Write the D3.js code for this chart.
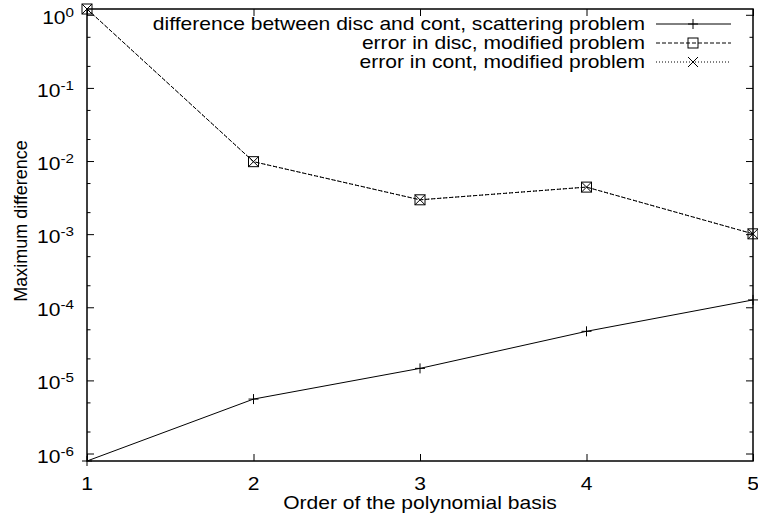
<!DOCTYPE html>
<html>
<head>
<meta charset="utf-8">
<script src="https://cdn.jsdelivr.net/npm/d3@7"></script>
<style>
  body { margin: 0; background: #fff; }
  text { font-family: "Liberation Sans", Arial, Helvetica, sans-serif; fill: #000; }
</style>
</head>
<body>
<div id="chart"></div>
<script>
// polynomial order on x, max difference on y (log)
const order = [1, 2, 3, 4, 5];
const scattering = [7.9e-7, 5.55e-6, 1.46e-5, 4.69e-5, 1.26e-4];
const discError = [1.2, 9.8e-3, 2.95e-3, 4.4e-3, 1.01e-3];
const contError = [1.2, 9.8e-3, 2.95e-3, 4.4e-3, 1.01e-3];
const yTickExp = [0, -1, -2, -3, -4, -5, -6];
const yMinorMult = [2, 5];
const legendLabels = [
  "difference between disc and cont, scattering problem",
  "error in disc, modified problem",
  "error in cont, modified problem"
];

const width = 758, height = 521;
const plotLeft = 87, plotRight = 753, plotTop = 9, plotBottom = 461;
const stretch = 1.17; // the original text is a bit wider than Liberation Sans

const svg = d3.select("#chart").append("svg")
  .attr("width", width)
  .attr("height", height);

svg.append("rect").attr("width", width).attr("height", height).attr("fill", "#fff");

const x = d3.scaleLinear().domain(d3.extent(order)).range([plotLeft, plotRight]);
const y = d3.scaleLog()
  .domain(d3.extent(scattering.concat(discError, contError)))
  .range([plotBottom, plotTop]);

const majorVals = yTickExp.map(e => Math.pow(10, e));
const minorVals = [];
yTickExp.forEach(e => yMinorMult.forEach(m => {
  const v = m * Math.pow(10, e - 1);
  if (v >= y.domain()[0] && v <= y.domain()[1]) minorVals.push(v);
}));

// ticks, inward on all four sides
function tickGroup(axis, tx, ty) {
  const g = svg.append("g").attr("transform", `translate(${tx},${ty})`).call(axis);
  g.select(".domain").remove();
  g.selectAll("line").attr("stroke", "#000").attr("stroke-width", 1);
  return g;
}
tickGroup(d3.axisLeft(y).tickValues(majorVals).tickSize(-7).tickFormat(""), plotLeft, 0);
tickGroup(d3.axisLeft(y).tickValues(minorVals).tickSize(-3.5).tickFormat(""), plotLeft, 0);
tickGroup(d3.axisRight(y).tickValues(majorVals).tickSize(-7).tickFormat(""), plotRight, 0);
tickGroup(d3.axisRight(y).tickValues(minorVals).tickSize(-3.5).tickFormat(""), plotRight, 0);
tickGroup(d3.axisBottom(x).tickValues(order).tickSize(-7).tickFormat(""), 0, plotBottom);
tickGroup(d3.axisTop(x).tickValues(order).tickSize(-7).tickFormat(""), 0, plotTop);

// frame
svg.append("rect")
  .attr("x", plotLeft).attr("y", plotTop)
  .attr("width", plotRight - plotLeft).attr("height", plotBottom - plotTop)
  .attr("fill", "none").attr("stroke", "#000").attr("stroke-width", 1.5);

const place = (px, py) => `translate(${px},${py}) scale(${stretch},1)`;

// y tick labels 10^k
const yl = svg.append("g").selectAll("text")
  .data(yTickExp)
  .enter().append("text")
  .attr("transform", d => place(74, y(Math.pow(10, d)) + 9))
  .attr("text-anchor", "end")
  .attr("font-size", "18px");
yl.append("tspan").text("10");
yl.append("tspan").attr("dy", -7).attr("font-size", "13px").text(d => d);

// x tick labels
svg.append("g").selectAll("text")
  .data(order)
  .enter().append("text")
  .attr("transform", d => place(x(d), 490))
  .attr("text-anchor", "middle")
  .attr("font-size", "18px")
  .text(d => d);

// axis titles
svg.append("text")
  .attr("transform", "translate(27,221) rotate(-90)")
  .attr("text-anchor", "middle")
  .attr("font-size", "18px")
  .text("Maximum difference");

svg.append("text")
  .attr("transform", place((plotLeft + plotRight) / 2, 509))
  .attr("text-anchor", "middle")
  .attr("font-size", "18px")
  .text("Order of the polynomial basis");

// series
const line = d3.line().x((d, i) => x(order[i])).y(d => y(d));
const series = [
  { values: scattering, dash: null, marker: "plus" },
  { values: discError, dash: "4,2", marker: "square" },
  { values: contError, dash: "1,2", marker: "cross" }
];

function drawMarker(g, type, cx, cy) {
  if (type === "plus") {
    g.append("path").attr("d", `M${cx - 5},${cy}H${cx + 5}M${cx},${cy - 5}V${cy + 5}`);
  } else if (type === "square") {
    g.append("rect").attr("x", cx - 5).attr("y", cy - 5).attr("width", 10).attr("height", 10).attr("fill", "none");
  } else {
    g.append("path").attr("d", `M${cx - 5},${cy - 5}L${cx + 5},${cy + 5}M${cx - 5},${cy + 5}L${cx + 5},${cy - 5}`);
  }
}

const plot = svg.append("g");
series.forEach(s => {
  plot.append("path")
    .datum(s.values)
    .attr("d", line)
    .attr("fill", "none")
    .attr("stroke", "#000")
    .attr("stroke-width", 1)
    .attr("stroke-dasharray", s.dash);
  const mg = plot.append("g").attr("stroke", "#000").attr("stroke-width", 1).attr("fill", "none");
  s.values.forEach((v, i) => drawMarker(mg, s.marker, x(order[i]), y(v)));
});

// legend
const legend = svg.append("g");
series.forEach((s, i) => {
  const ly = 30 + i * 19;
  legend.append("text")
    .attr("transform", place(645, ly))
    .attr("text-anchor", "end")
    .attr("font-size", "18px")
    .text(legendLabels[i]);
  legend.append("line")
    .attr("x1", 656).attr("x2", 731)
    .attr("y1", ly - 6).attr("y2", ly - 6)
    .attr("stroke", "#000").attr("stroke-width", 1)
    .attr("stroke-dasharray", s.dash);
  const mg = legend.append("g").attr("stroke", "#000").attr("stroke-width", 1).attr("fill", "none");
  drawMarker(mg, s.marker, 693, ly - 6);
});
</script>
</body>
</html>
